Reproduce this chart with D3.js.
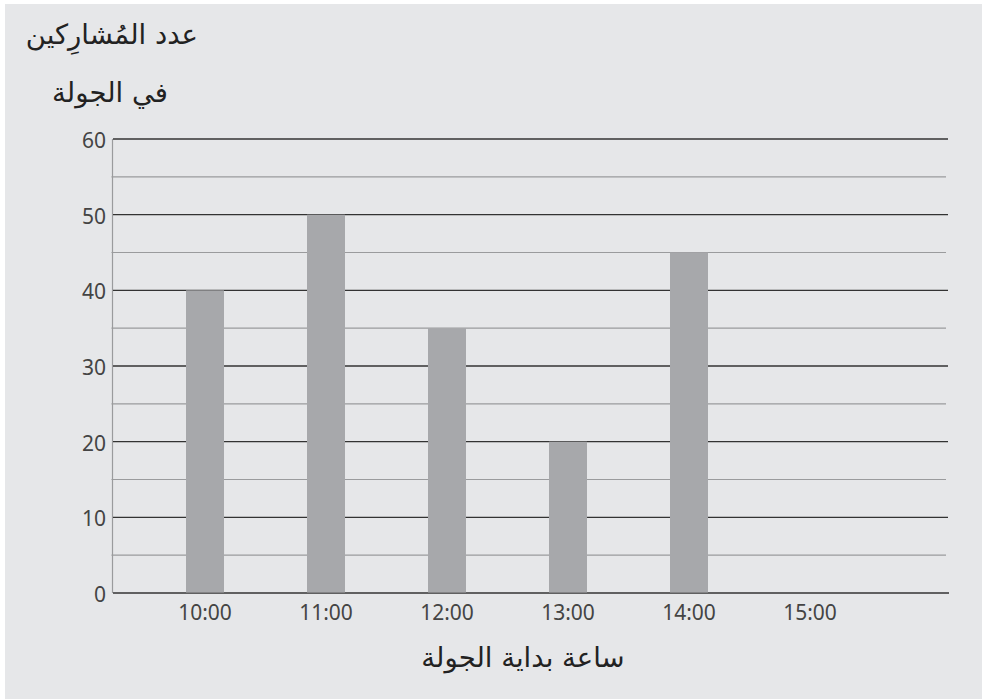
<!DOCTYPE html>
<html>
<head>
<meta charset="utf-8">
<script src="https://cdn.jsdelivr.net/npm/d3@7"></script>
<style>
  body { margin: 0; background: #fff; }
  svg { display: block; }
  .tick-label { font-family: "Noto Sans", sans-serif; font-size: 21px; fill: #444; }
  .ar { font-family: "DejaVu Sans", sans-serif; font-size: 27.5px; fill: #222; }
</style>
</head>
<body>
<svg width="982" height="699"></svg>
<script>
// data
var hours = ['10:00', '11:00', '12:00', '13:00', '14:00', '15:00'];
var participants = [40, 50, 35, 20, 45, 0];
var majorTicks = [0, 10, 20, 30, 40, 50, 60];
var minorTicks = [5, 15, 25, 35, 45, 55];
var titleLines = ['عدد المُشارِكين', 'في الجولة'];
var xTitle = 'ساعة بداية الجولة';

var svg = d3.select('svg'),
  width = +svg.attr('width'),
  height = +svg.attr('height');

svg.append('rect')
  .attr('x', 5).attr('y', 4)
  .attr('width', width - 5).attr('height', height - 4)
  .attr('fill', '#e6e7e9');

var plotLeft = 113, plotRight = 948, plotTop = 139, plotBottom = 593;

var x = d3.scaleBand()
  .domain(hours)
  .range([144.5, 870.5])
  .paddingInner(0.686)
  .paddingOuter(0.343);

var y = d3.scaleLinear().domain([0, 60]).range([plotBottom, plotTop]);

// minor grid
svg.append('g')
  .selectAll('line')
  .data(minorTicks)
  .enter()
  .append('line')
  .attr('x1', plotLeft - 1.5).attr('x2', plotRight - 2)
  .attr('y1', function (d) { return y(d); })
  .attr('y2', function (d) { return y(d); })
  .attr('stroke', '#9a9b9d')
  .attr('stroke-width', 1.2);

// y axis line
svg.append('line')
  .attr('x1', plotLeft - 0.5).attr('x2', plotLeft - 0.5)
  .attr('y1', plotTop).attr('y2', plotBottom)
  .attr('stroke', '#9a9b9d')
  .attr('stroke-width', 1.2);

// major grid
svg.append('g')
  .selectAll('line')
  .data(majorTicks)
  .enter()
  .append('line')
  .attr('x1', plotLeft).attr('x2', function (d) { return d === 0 ? plotRight + 1 : plotRight; })
  .attr('y1', function (d) { return y(d); })
  .attr('y2', function (d) { return y(d); })
  .attr('stroke', '#333')
  .attr('stroke-width', 1.3);

// bars
svg.append('g')
  .selectAll('rect')
  .data(participants)
  .enter()
  .append('rect')
  .attr('x', function (d, i) { return x(hours[i]); })
  .attr('width', x.bandwidth())
  .attr('y', function (d) { return y(d); })
  .attr('height', function (d) { return Math.max(0, y(0) - y(d) - 0.5); })
  .attr('fill', '#a7a8ab');

// y tick labels
svg.append('g')
  .selectAll('text')
  .data(majorTicks)
  .enter()
  .append('text')
  .attr('class', 'tick-label')
  .attr('x', 106)
  .attr('y', function (d) { return y(d) + 9; })
  .attr('text-anchor', 'end')
  .text(function (d) { return d; });

// x tick labels
svg.append('g')
  .selectAll('text')
  .data(hours)
  .enter()
  .append('text')
  .attr('class', 'tick-label')
  .attr('x', function (d) { return x(d) + x.bandwidth() / 2; })
  .attr('y', 620)
  .attr('text-anchor', 'middle')
  .text(function (d) { return d; });

// titles
svg.append('text')
  .attr('class', 'ar')
  .attr('x', 198).attr('y', 44)
  .attr('text-anchor', 'end')
  .text(titleLines[0]);

svg.append('text')
  .attr('class', 'ar')
  .attr('x', 168).attr('y', 102)
  .attr('text-anchor', 'end')
  .text(titleLines[1]);

svg.append('text')
  .attr('class', 'ar')
  .attr('x', 523).attr('y', 667)
  .attr('text-anchor', 'middle')
  .text(xTitle);
</script>
</body>
</html>
